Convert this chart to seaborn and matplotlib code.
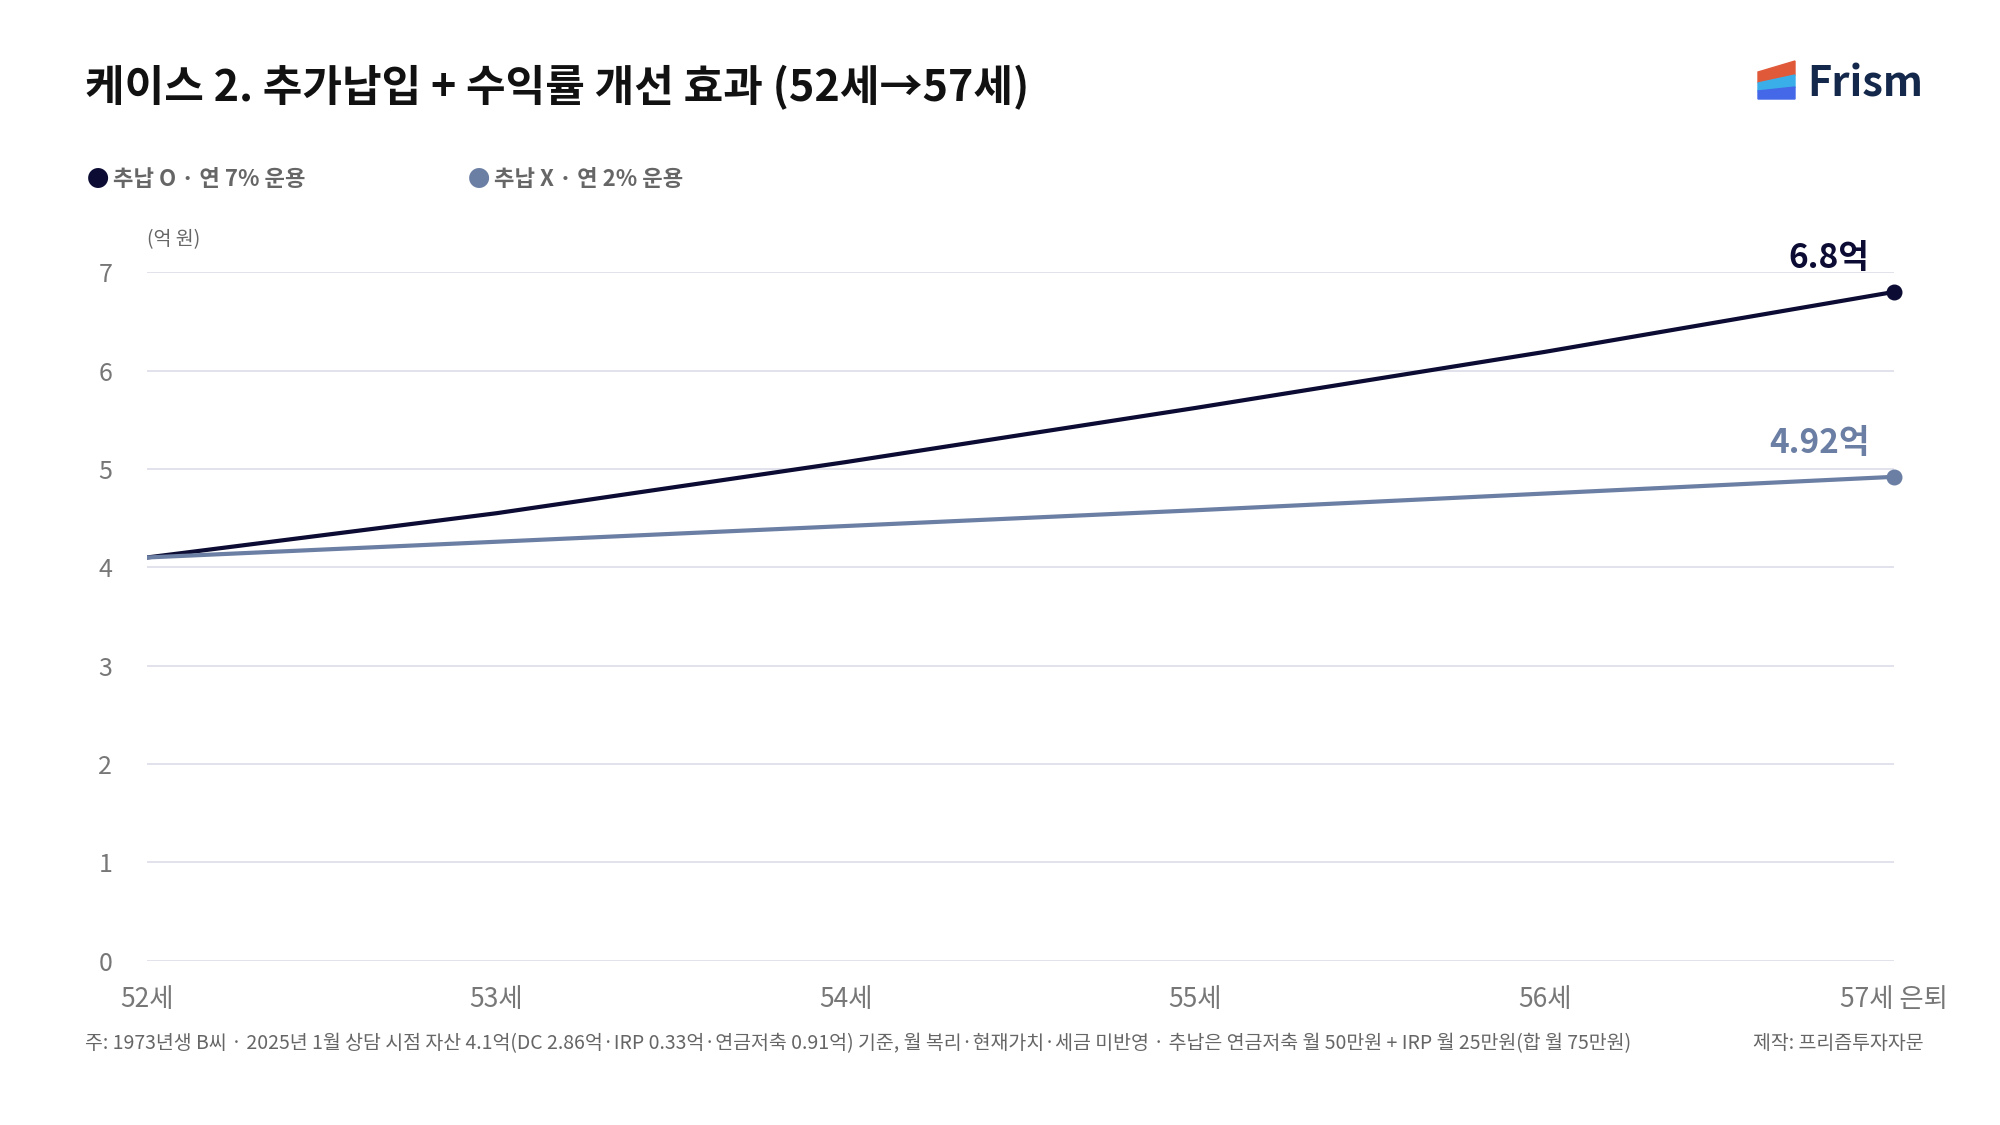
import matplotlib
matplotlib.use("Agg")
import matplotlib.pyplot as plt
import seaborn as sns
import pandas as pd
from matplotlib.patches import Polygon

ages = ["52세", "53세", "54세", "55세", "56세", "57세 은퇴"]
s1_name = "추납 O · 연 7% 운용"
s2_name = "추납 X · 연 2% 운용"
s1 = [4.10, 4.55, 5.07, 5.62, 6.19, 6.80]
s2 = [4.10, 4.26, 4.42, 4.58, 4.75, 4.92]
yticks = [0, 1, 2, 3, 4, 5, 6, 7]

sns.set_theme(style="white")
plt.rcParams['font.family'] = ['Noto Sans CJK KR', 'DejaVu Sans']

c1, c2 = "#0b0b33", "#6b7ea3"
df = pd.DataFrame({"x": list(range(len(ages))) * 2, "v": s1 + s2,
                   "s": [s1_name] * len(s1) + [s2_name] * len(s2)})

fig = plt.figure(figsize=(20, 11.25), dpi=100)
ax = fig.add_axes([0.0735, 0.146, 0.8735, 0.612])
sns.lineplot(data=df, x="x", y="v", hue="s", palette=[c1, c2], linewidth=3, ax=ax, legend=False)
ax.scatter([5], [s1[-1]], s=110, color=c1, zorder=5, clip_on=False)
ax.scatter([5], [s2[-1]], s=110, color=c2, zorder=5, clip_on=False)
ax.text(4.93, s1[-1] + 0.17, "6.8억", ha="right", va="bottom", fontsize=24, fontweight="bold", color=c1)
ax.text(4.93, s2[-1] + 0.17, "4.92억", ha="right", va="bottom", fontsize=24, fontweight="bold", color=c2)

ax.set_xlim(0, 5)
ax.set_ylim(0, 7)
ax.set_yticks(yticks)
ax.set_yticklabels([str(t) for t in yticks], fontsize=18, color="#777777")
ax.set_xticks(range(len(ages)))
ax.set_xticklabels(ages, fontsize=19, color="#777777")
ax.tick_params(axis="y", pad=25, length=0)
ax.tick_params(axis="x", pad=18, length=0)
ax.grid(axis="y", color="#dcdde8", linewidth=1.2)
for sp in ax.spines.values():
    sp.set_visible(False)
ax.set_xlabel(""); ax.set_ylabel("")
ax.text(0, 7.22, "(억 원)", fontsize=14, color="#666666", va="bottom")

fig.text(0.0425, 0.922, "케이스 2. 추가납입 + 수익률 개선 효과 (52세→57세)", fontsize=31, fontweight="bold", color="#111111", va="center")
fig.text(0.0435, 0.84, "●", fontsize=16, color=c1, va="center")
fig.text(0.0565, 0.84, s1_name, fontsize=16, fontweight="bold", color="#666666", va="center")
fig.text(0.234, 0.84, "●", fontsize=16, color=c2, va="center")
fig.text(0.247, 0.84, s2_name, fontsize=16, fontweight="bold", color="#666666", va="center")

H, W = 1125, 2000
def poly(pts, col):
    fig.patches.append(Polygon([(x / W, 1 - y / H) for x, y in pts], closed=True,
                               transform=fig.transFigure, color=col, figure=fig))
poly([(1758, 72), (1795, 61), (1795, 75), (1758, 83)], "#e05a3a")
poly([(1758, 83), (1795, 75), (1795, 87), (1758, 91)], "#3aaee8")
poly([(1758, 91), (1795, 87), (1795, 99), (1758, 99)], "#4468e8")
fig.text(0.9035, 0.925, "Frism", fontsize=30, fontweight="bold", color="#14284b", va="center")

fig.text(0.0425, 0.0725, "주: 1973년생 B씨 · 2025년 1월 상담 시점 자산 4.1억(DC 2.86억·IRP 0.33억·연금저축 0.91억) 기준, 월 복리·현재가치·세금 미반영 · 추납은 연금저축 월 50만원 + IRP 월 25만원(합 월 75만원)",
         fontsize=14, color="#666666", va="center")
fig.text(0.962, 0.0725, "제작: 프리즘투자자문", fontsize=14, color="#666666", va="center", ha="right")

fig.savefig("out.png", dpi=100, facecolor="white")
